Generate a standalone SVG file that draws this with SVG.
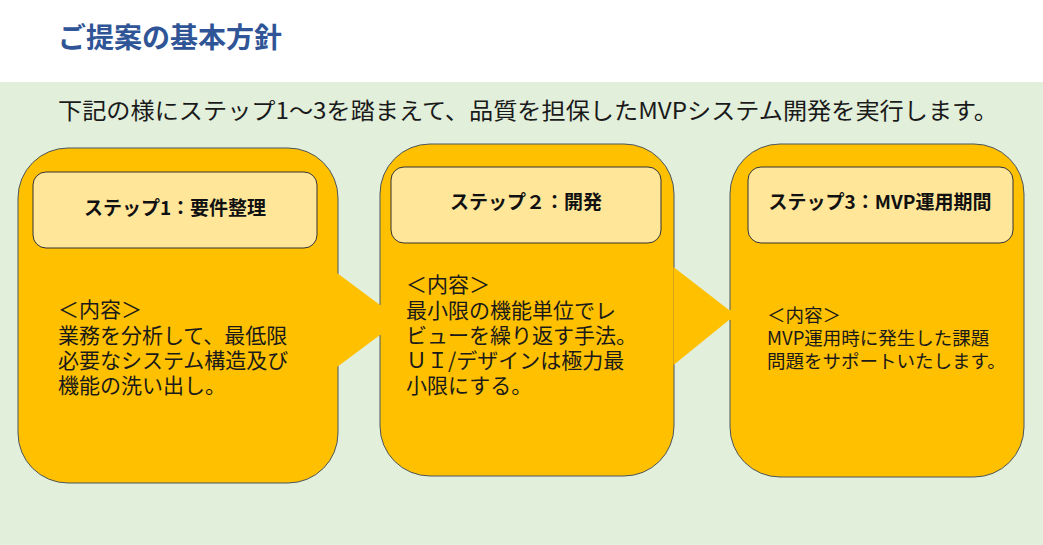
<svg xmlns="http://www.w3.org/2000/svg" width="1043" height="545" viewBox="0 0 1043 545">
  <style>
    .outer { fill: #FFC000; stroke: #4A5560; stroke-width: 1; }
    .inner { fill: #FFE699; stroke: #333333; stroke-width: 1; }
    .arrow { fill: #FFC000; stroke: none; }
    .jp { font-family: "Noto Sans CJK JP", "Noto Sans", sans-serif; fill: #1a1a1a; }
    .head { font-size: 19px; font-weight: bold; text-anchor: middle; fill: #111; }
    .body { font-size: 21px; }
    .body3 { font-size: 18.5px; }
  </style>
  <rect x="0" y="0" width="1043" height="82" fill="#FFFFFF"/>
  <rect x="0" y="82" width="1043" height="463" fill="#E2EFDA"/>
  <text x="58" y="48" class="jp" font-size="28" font-weight="bold" style="fill:#2F5597">ご提案の基本方針</text>
  <text x="58" y="119" class="jp" font-size="23" textLength="940" lengthAdjust="spacingAndGlyphs">下記の様にステップ1～3を踏まえて、品質を担保したMVPシステム開発を実行します。</text>

  <g id="step1">
    <rect class="outer" x="18" y="148" width="320" height="335" rx="50" ry="50"/>
    <rect class="inner" x="33" y="172" width="284" height="76" rx="13" ry="13"/>
    <text class="jp head" x="175" y="215">ステップ1：要件整理</text>
    <text class="jp body" x="58" y="317">＜内容＞<tspan x="58" dy="26">業務を分析して、最低限</tspan><tspan x="58" dy="25">必要なシステム構造及び</tspan><tspan x="58" dy="25">機能の洗い出し。</tspan></text>
  </g>

  <g id="step2">
    <rect class="outer" x="380" y="144" width="294" height="332" rx="50" ry="50"/>
    <rect class="inner" x="391" y="167" width="270" height="76" rx="13" ry="13"/>
    <text class="jp head" x="526" y="209">ステップ２：開発</text>
    <text class="jp body" x="406" y="292">＜内容＞<tspan x="406" dy="26">最小限の機能単位でレ</tspan><tspan x="406" dy="25">ビューを繰り返す手法。</tspan><tspan x="406" dy="25">ＵＩ/デザインは極力最</tspan><tspan x="406" dy="25">小限にする。</tspan></text>
  </g>

  <g id="step3">
    <rect class="outer" x="730" y="144" width="294" height="333" rx="50" ry="50"/>
    <rect class="inner" x="748" y="167" width="265" height="76" rx="13" ry="13"/>
    <text class="jp head" x="880" y="209">ステップ3：MVP運用期間</text>
    <text class="jp body3" x="767" y="322">＜内容＞<tspan x="767" dy="23">MVP運用時に発生した課題</tspan><tspan x="767" dy="23">問題をサポートいたします。</tspan></text>
  </g>

  <g id="connectors">
    <polygon class="arrow" points="337,273 380,305 381.5,305 381.5,335 380,335 337,367"/>
    <polygon class="arrow" points="673.5,267 729,310 731.5,310 731.5,320 729,320 673.5,365"/>
  </g>
</svg>
